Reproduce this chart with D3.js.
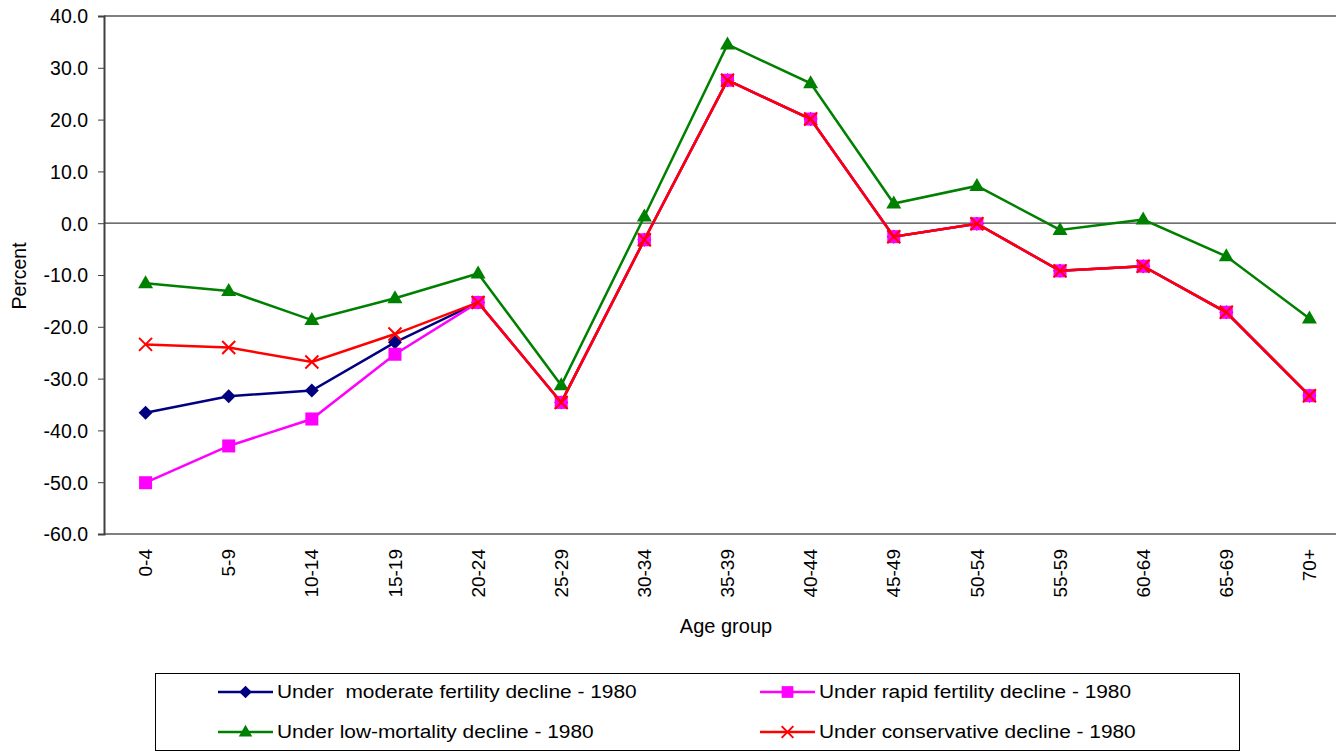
<!DOCTYPE html>
<html><head><meta charset="utf-8">
<script src="https://cdn.jsdelivr.net/npm/d3@7"></script>
<style>body{margin:0;background:#fff}svg{display:block}text{font-family:"Liberation Sans",Arial,sans-serif;fill:#000;white-space:pre}</style>
</head><body><svg id="c" width="1336" height="753"></svg>
<script>
const categories = ["0-4","5-9","10-14","15-19","20-24","25-29","30-34","35-39","40-44","45-49","50-54","55-59","60-64","65-69","70+"];
const moderate = [-36.6,-33.4,-32.3,-23.0,-15.3,-34.6,-3.2,27.6,20.1,-2.6,-0.1,-9.2,-8.3,-17.2,-33.3];
const rapid = [-50.1,-43.0,-37.8,-25.3,-15.3,-34.6,-3.2,27.6,20.1,-2.6,-0.1,-9.2,-8.3,-17.2,-33.3];
const lowMortality = [-11.6,-13.1,-18.7,-14.5,-9.7,-31.3,1.3,34.5,27.0,3.8,7.2,-1.3,0.7,-6.4,-18.4];
const conservative = [-23.4,-24.0,-26.8,-21.4,-15.3,-34.6,-3.2,27.6,20.1,-2.6,-0.1,-9.2,-8.3,-17.2,-33.3];
const yTicks = [40,30,20,10,0,-10,-20,-30,-40,-50,-60];
const seriesNames = ["Under  moderate fertility decline - 1980","Under rapid fertility decline - 1980","Under low-mortality decline - 1980","Under conservative decline - 1980"];

const series = [
  {name: seriesNames[0], values: moderate, color: "#000080", marker: "diamond"},
  {name: seriesNames[1], values: rapid, color: "#FF00FF", marker: "square"},
  {name: seriesNames[2], values: lowMortality, color: "#008000", marker: "triangle"},
  {name: seriesNames[3], values: conservative, color: "#FF0000", marker: "x"}
];

const svg = d3.select("#c");
const L = 104, T = 16, B = 534, R = 1351;
const x = d3.scaleBand().domain(categories).range([L, R]);
const y = d3.scaleLinear().domain([-60, 40]).range([B, T]);
const FONT = "Liberation Sans, Arial, sans-serif";

svg.append("line").attr("x1", L).attr("x2", 1336).attr("y1", T).attr("y2", T).attr("stroke", "#808080").attr("stroke-width", 2);
svg.append("line").attr("x1", L).attr("x2", 1336).attr("y1", B).attr("y2", B).attr("stroke", "#808080").attr("stroke-width", 2);

const yAxis = d3.axisLeft(y).tickValues(yTicks).tickSize(6).tickFormat(d => d.toFixed(1));
const ga = svg.append("g").attr("transform", `translate(${L},0)`).call(yAxis);
ga.select(".domain").attr("stroke", "#404040").attr("stroke-width", 2);
ga.selectAll(".tick line").attr("stroke", "#404040");
ga.selectAll(".tick text").attr("font-size", 19.5).attr("x", -16).attr("dy", "0.35em").style("font-family", FONT);

svg.append("line").attr("x1", L).attr("x2", 1336).attr("y1", y(0)).attr("y2", y(0)).attr("stroke", "#404040").attr("stroke-width", 1.3);

const gx = svg.append("g").attr("transform", `translate(0,${B})`).call(d3.axisBottom(x).tickSize(0).tickFormat(d => d));
gx.select(".domain").remove();
gx.selectAll(".tick text").attr("font-size", 19).attr("transform", "rotate(-90)").attr("text-anchor", "end")
  .attr("x", -15).attr("y", 0).attr("dy", "0.35em").style("font-family", FONT);

svg.append("text").attr("transform", `translate(26,276) rotate(-90)`).attr("text-anchor", "middle").attr("font-size", 19.5).text("Percent");
svg.append("text").attr("x", 726).attr("y", 633).attr("text-anchor", "middle").attr("font-size", 20).text("Age group");

function drawMarker(g, type, color, cx, cy, s) {
  if (type === "diamond") {
    g.append("path").attr("d", `M${cx},${cy-7*s}L${cx+7*s},${cy}L${cx},${cy+7*s}L${cx-7*s},${cy}Z`).attr("fill", color);
  } else if (type === "square") {
    g.append("rect").attr("x", cx - 6.5*s).attr("y", cy - 6.5*s).attr("width", 13*s).attr("height", 13*s).attr("fill", color);
  } else if (type === "triangle") {
    g.append("path").attr("d", `M${cx},${cy-8*s}L${cx+7.5*s},${cy+5*s}L${cx-7.5*s},${cy+5*s}Z`).attr("fill", color);
  } else if (type === "x") {
    g.append("path").attr("d", `M${cx-6.5*s},${cy-6.5*s}L${cx+6.5*s},${cy+6.5*s}M${cx+6.5*s},${cy-6.5*s}L${cx-6.5*s},${cy+6.5*s}`)
     .attr("stroke", color).attr("stroke-width", 2).attr("fill", "none");
  }
}

const line = d3.line().x((d, i) => x(categories[i]) + x.bandwidth()/2).y(d => y(d));
series.forEach(s => {
  const g = svg.append("g");
  g.append("path").datum(s.values).attr("d", line).attr("fill", "none").attr("stroke", s.color).attr("stroke-width", 2.5);
  s.values.forEach((v, i) => drawMarker(g, s.marker, s.color, x(categories[i]) + x.bandwidth()/2, y(v), 1));
});

svg.append("rect").attr("x", 155.5).attr("y", 673.5).attr("width", 1084).attr("height", 77).attr("fill", "none").attr("stroke", "#000").attr("stroke-width", 1);
const legPos = [[218, 692], [760, 692], [218, 732], [760, 732]];
series.forEach((s, i) => {
  const [lx, ly] = legPos[i];
  const g = svg.append("g");
  g.append("line").attr("x1", lx).attr("x2", lx + 55).attr("y1", ly).attr("y2", ly).attr("stroke", s.color).attr("stroke-width", 2.5);
  drawMarker(g, s.marker, s.color, lx + 27.5, ly, 0.9);
  g.append("text").attr("transform", `translate(${lx + 59},${ly}) scale(1.16,1)`).attr("dy", "0.35em").attr("font-size", 18).text(s.name);
});
</script></body></html>
